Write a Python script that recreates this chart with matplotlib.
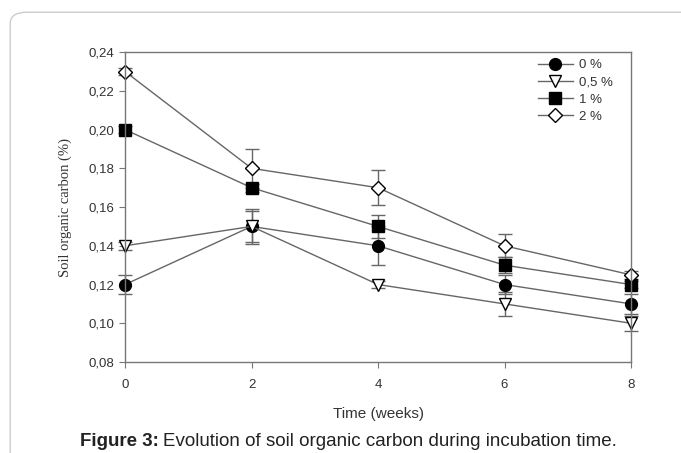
import matplotlib
matplotlib.use("Agg")
import matplotlib.pyplot as plt
from matplotlib.patches import FancyBboxPatch

# Data
weeks = [0, 2, 4, 6, 8]
soc_0 = [0.12, 0.15, 0.14, 0.12, 0.11]
err_0 = [0.005, 0.008, 0.010, 0.005, 0.005]
soc_05 = [0.14, 0.15, 0.12, 0.11, 0.10]
err_05 = [0.002, 0.009, 0.002, 0.006, 0.004]
soc_1 = [0.20, 0.17, 0.15, 0.13, 0.12]
err_1 = [0.002, 0.002, 0.006, 0.004, 0.002]
soc_2 = [0.23, 0.18, 0.17, 0.14, 0.125]
err_2 = [0.002, 0.010, 0.009, 0.006, 0.002]
labels = ["0 %", "0,5 %", "1 %", "2 %"]
yticks = [0.08, 0.10, 0.12, 0.14, 0.16, 0.18, 0.20, 0.22, 0.24]

fig = plt.figure(figsize=(6.81, 4.53), dpi=100)

# rounded outer frame
frame = FancyBboxPatch((0.015, -0.05), 1.1, 1.023, boxstyle="round,pad=0,rounding_size=0.025",
                       transform=fig.transFigure, fill=False, edgecolor="#cccccc", linewidth=1.0)
fig.patches.append(frame)

ax = fig.add_axes([0.1836, 0.2009, 0.743, 0.684])

styles = [
    (soc_0, err_0, "o", "black", 8.5),
    (soc_05, err_05, "v", "white", 8.5),
    (soc_1, err_1, "s", "black", 8),
    (soc_2, err_2, "D", "white", 7.5),
]
handles = []
for (vals, errs, mk, fc, ms), lab in zip(styles, labels):
    c = ax.errorbar(weeks, vals, yerr=errs, marker=mk, markerfacecolor=fc, markeredgecolor="black",
                    markersize=ms, color="#666666", linewidth=1.0,
                    ecolor="#666666", elinewidth=1.0, capsize=5, capthick=1.0, label=lab)
    for artist in [c.lines[0], *c.lines[1], *c.lines[2]]:
        artist.set_clip_on(False)
    handles.append(c.lines[0])

ax.set_xlim(0, 8)
ax.set_ylim(0.08, 0.24)
ax.set_xticks(weeks)
ax.set_yticks(yticks)
ax.set_yticklabels([f"{v:.2f}".replace(".", ",") for v in yticks])
ax.tick_params(direction="out", length=4, color="#777777", labelsize=9.5, labelcolor="#333333")
ax.tick_params(axis="x", pad=8)
for lbl in ax.get_xticklabels() + ax.get_yticklabels():
    lbl.set_family("Liberation Sans")
for s in ax.spines.values():
    s.set_color("#777777")
    s.set_linewidth(1.0)

ax.set_xlabel("Time (weeks)", fontsize=11, family="Liberation Sans", color="#333333", labelpad=12)
ax.set_ylabel("Soil organic carbon (%)", fontsize=10.5, family="Liberation Serif", color="#333333",
              labelpad=12)

leg = ax.legend(handles, labels, loc="upper right", frameon=False, handlelength=2.6,
                handletextpad=0.5, labelspacing=0.38, borderaxespad=0,
                bbox_to_anchor=(0.975, 0.995),
                prop={"family": "Liberation Sans", "size": 9.5})
for t in leg.get_texts():
    t.set_color("#333333")

fig.text(0.117, 0.0155, "Figure 3:", fontsize=13.5, fontweight="bold", family="Liberation Sans",
         color="#222222")
fig.text(0.240, 0.0155, "Evolution of soil organic carbon during incubation time.", fontsize=13.5,
         family="Liberation Sans", color="#222222")

fig.savefig("out.png", dpi=100)
